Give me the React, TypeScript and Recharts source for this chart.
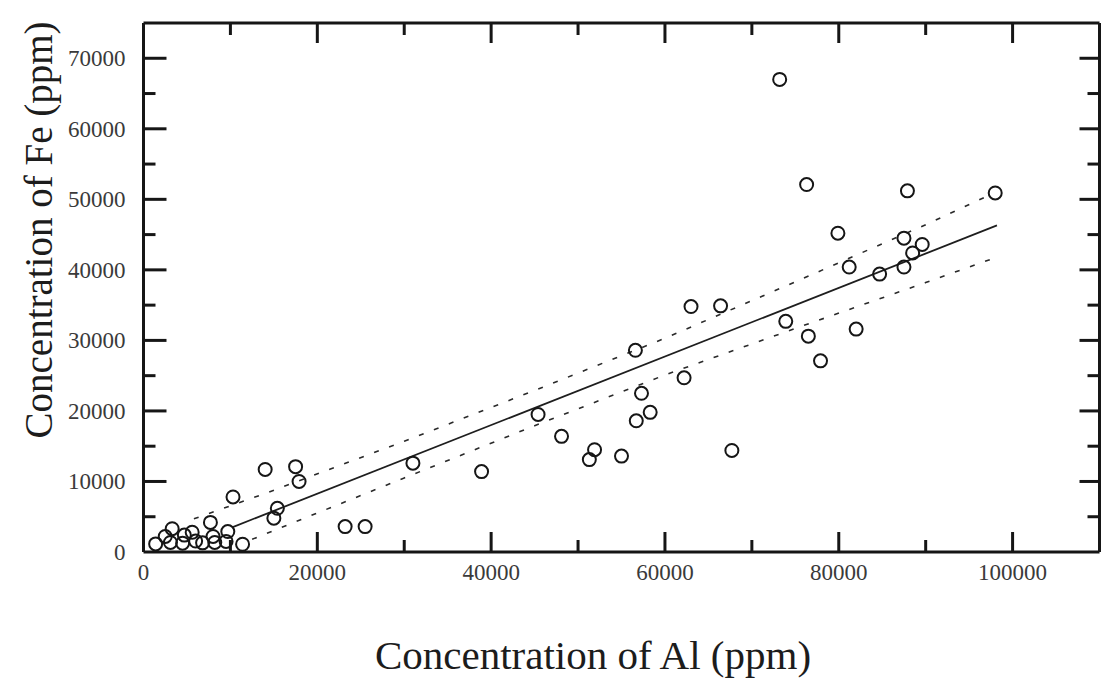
import React from "react";
import { ScatterChart, Scatter, XAxis, YAxis, Label } from "recharts";

// measured samples, ppm (Al on x, Fe on y)
const alValues = [
  73200, 76300, 87900, 98000, 79900, 87500, 89600, 88500, 81200, 87500,
  84700, 63000, 66400, 56600, 73900, 76500, 82000, 77900, 62200, 57300,
  58300, 56700, 45400, 48100, 51900, 51300, 55000, 67700, 31000, 38900,
  14000, 17500, 17900, 10300, 15400, 15000, 23200, 25500, 7700, 3300,
  5600, 9700, 2500, 4700, 8000, 3100, 6000, 1400, 8200, 9500,
  11400, 4500, 6800,
];
const feValues = [
  67000, 52100, 51200, 50900, 45200, 44500, 43600, 42400, 40400, 40400,
  39400, 34800, 34900, 28600, 32700, 30600, 31600, 27100, 24700, 22500,
  19800, 18600, 19500, 16400, 14500, 13100, 13600, 14400, 12600, 11400,
  11700, 12100, 10000, 7800, 6200, 4800, 3600, 3600, 4200, 3300,
  2800, 2900, 2200, 2400, 2200, 1350, 1550, 1150, 1350, 1500,
  1100, 1250, 1300,
];

// least-squares line and its dashed band
const fitAl = [10200, 98200];
const fitFe = [3500, 46300];
const upperAl = [5800, 14000, 30000, 45000, 60000, 75000, 90000, 97500];
const upperFe = [4700, 8300, 15700, 22900, 30300, 38300, 46400, 50700];
const lowerAl = [12500, 30000, 45000, 60000, 75000, 90000, 97500];
const lowerFe = [1800, 10500, 17900, 25100, 31700, 38200, 41500];

const xTicks = [0, 10000, 20000, 30000, 40000, 50000, 60000, 70000, 80000, 90000, 100000, 110000];
const yTicks = [
  0, 5000, 10000, 15000, 20000, 25000, 30000, 35000, 40000, 45000, 50000, 55000, 60000, 65000, 70000, 75000,
];

const toPoints = (xs: number[], ys: number[]) => xs.map((al, i) => ({ al, fe: ys[i] }));
const samples = toPoints(alValues, feValues);
const fitLine = toPoints(fitAl, fitFe);
const upperLine = toPoints(upperAl, upperFe);
const lowerLine = toPoints(lowerAl, lowerFe);

const SERIF = '"Liberation Serif", "Times New Roman", serif';
const INK = "#161616";

const isMajorX = (v: number) => v % 20000 === 0;
const isMajorY = (v: number) => v % 10000 === 0;
const innerX = (v: number) => v > 0 && v < 110000;
const innerY = (v: number) => v > 0 && v < 75000;

const BottomTick = (p: any) => {
  const v = p.payload.value;
  return (
    <g>
      {innerX(v) && (
        <line x1={p.x} x2={p.x} y1={p.y} y2={p.y - (isMajorX(v) ? 20 : 12)} stroke={INK} strokeWidth={3} />
      )}
      {isMajorX(v) && v < 110000 && (
        <text x={p.x} y={p.y + 28} textAnchor="middle" fontFamily={SERIF} fontSize={23} fill="#3a3a3a">
          {v}
        </text>
      )}
    </g>
  );
};

const TopTick = (p: any) => {
  const v = p.payload.value;
  if (!innerX(v)) return <g />;
  return <line x1={p.x} x2={p.x} y1={p.y} y2={p.y + (isMajorX(v) ? 20 : 12)} stroke={INK} strokeWidth={3} />;
};

const LeftTick = (p: any) => {
  const v = p.payload.value;
  return (
    <g>
      {innerY(v) && (
        <line x1={p.x} x2={p.x + (isMajorY(v) ? 23 : 12)} y1={p.y} y2={p.y} stroke={INK} strokeWidth={3} />
      )}
      {isMajorY(v) && (
        <text x={p.x - 18} y={p.y + 8} textAnchor="end" fontFamily={SERIF} fontSize={23} fill="#3a3a3a">
          {v}
        </text>
      )}
    </g>
  );
};

const RightTick = (p: any) => {
  const v = p.payload.value;
  if (!innerY(v)) return <g />;
  return <line x1={p.x} x2={p.x - (isMajorY(v) ? 20 : 12)} y1={p.y} y2={p.y} stroke={INK} strokeWidth={3} />;
};

const Ring = (p: any) => <circle cx={p.cx} cy={p.cy} r={6.5} fill="none" stroke={INK} strokeWidth={2} />;
const NoMark = () => <g />;

const title = (text: string, x: number, y: number, size: number, angle = 0) => () => (
  <text
    x={x}
    y={y}
    transform={angle ? `rotate(${angle} ${x} ${y})` : undefined}
    textAnchor="middle"
    dominantBaseline="central"
    fontFamily={SERIF}
    fontSize={size}
    fill="#1c1c1c"
  >
    {text}
  </text>
);

const frame = { stroke: INK, strokeWidth: 3 };

export default function App() {
  return (
    <div style={{ position: "absolute", left: 0, top: 0, background: "#fff" }}>
      <ScatterChart width={1107} height={693} margin={{ top: 23, right: 7.5, bottom: 0, left: 0 }}>
        <XAxis
          xAxisId="bottom"
          dataKey="al"
          type="number"
          domain={[0, 110000]}
          ticks={xTicks}
          interval={0}
          height={141}
          tickSize={0}
          tickMargin={0}
          tickLine={false}
          axisLine={frame}
          tick={<BottomTick />}
          allowDataOverflow
        >
          <Label content={title("Concentration of Al (ppm)", 593, 655, 41)} />
        </XAxis>
        <XAxis
          xAxisId="top"
          orientation="top"
          mirror
          dataKey="al"
          type="number"
          domain={[0, 110000]}
          ticks={xTicks}
          interval={0}
          height={30}
          tickSize={0}
          tickMargin={0}
          tickLine={false}
          axisLine={frame}
          tick={<TopTick />}
          allowDataOverflow
        />
        <YAxis
          yAxisId="left"
          dataKey="fe"
          type="number"
          domain={[0, 75000]}
          ticks={yTicks}
          interval={0}
          width={143.5}
          tickSize={0}
          tickMargin={0}
          tickLine={false}
          axisLine={frame}
          tick={<LeftTick />}
          allowDataOverflow
        >
          <Label content={title("Concentration of Fe (ppm)", 38, 230, 39, -90)} />
        </YAxis>
        <YAxis
          yAxisId="right"
          orientation="right"
          mirror
          dataKey="fe"
          type="number"
          domain={[0, 75000]}
          ticks={yTicks}
          interval={0}
          width={30}
          tickSize={0}
          tickMargin={0}
          tickLine={false}
          axisLine={frame}
          tick={<RightTick />}
          allowDataOverflow
        />
        <Scatter xAxisId="top" yAxisId="right" data={samples} shape={NoMark} isAnimationActive={false} />
        <Scatter
          xAxisId="bottom"
          yAxisId="left"
          data={upperLine}
          shape={NoMark}
          line={{ stroke: "#2a2a2a", strokeWidth: 1.6, strokeDasharray: "5 11" }}
          lineType="joint"
          isAnimationActive={false}
        />
        <Scatter
          xAxisId="bottom"
          yAxisId="left"
          data={lowerLine}
          shape={NoMark}
          line={{ stroke: "#2a2a2a", strokeWidth: 1.6, strokeDasharray: "5 11" }}
          lineType="joint"
          isAnimationActive={false}
        />
        <Scatter
          xAxisId="bottom"
          yAxisId="left"
          data={fitLine}
          shape={NoMark}
          line={{ stroke: "#1e1e1e", strokeWidth: 1.8 }}
          lineType="joint"
          isAnimationActive={false}
        />
        <Scatter xAxisId="bottom" yAxisId="left" data={samples} shape={Ring} isAnimationActive={false} />
      </ScatterChart>
    </div>
  );
}
